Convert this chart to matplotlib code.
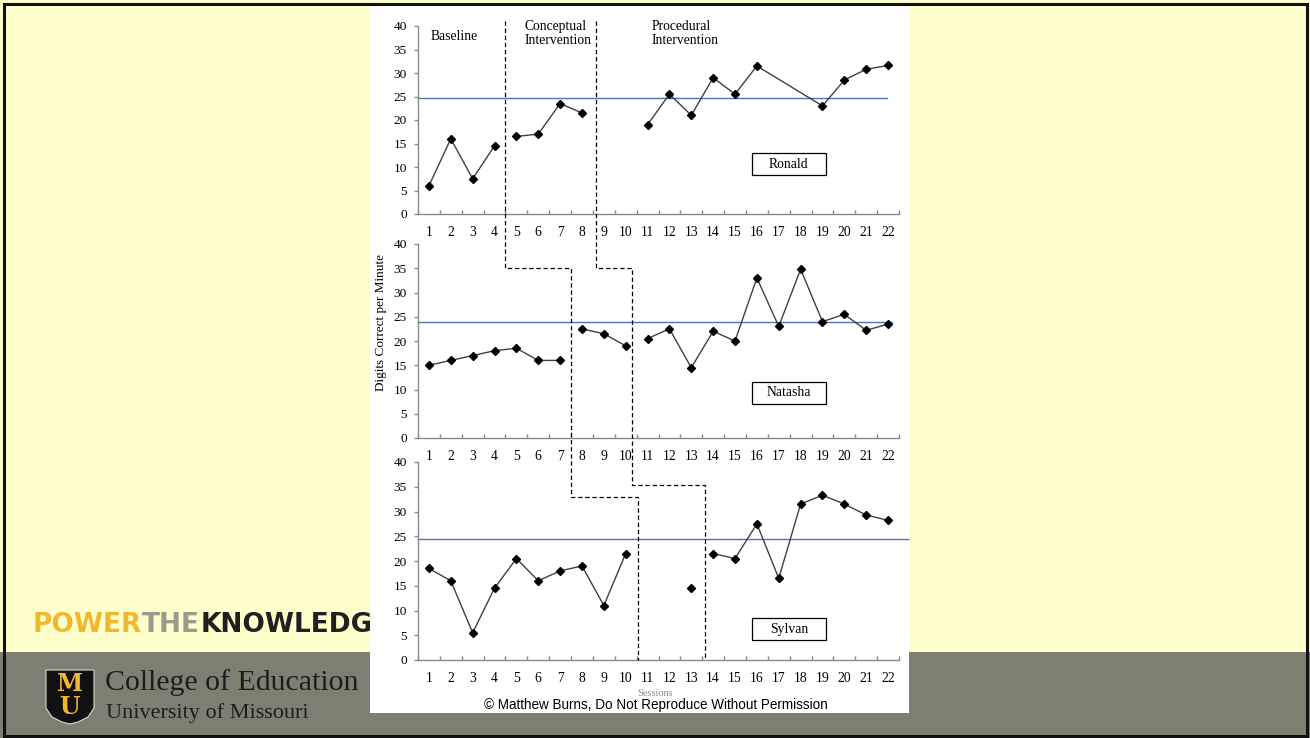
import numpy as np
import matplotlib
matplotlib.use("Agg")
import matplotlib.pyplot as plt
from matplotlib.patches import Rectangle, Polygon
from matplotlib.lines import Line2D

# ---- data -------------------------------------------------------------
sessions = list(range(1, 23))
nan = np.nan
ronald = [6, 16, 7.5, 14.5, 16.5, 17, 23.5, 21.5, nan, nan, 19, 25.5, 21,
          29, 25.5, 31.5, nan, nan, 23, 28.5, 30.8, 31.6]
natasha = [15, 16, 17, 18, 18.5, 16, 16, 22.5, 21.5, 19, 20.5, 22.5, 14.5,
           22, 20, 33, 23, 34.8, 24, 25.5, 22.2, 23.5]
sylvan = [18.5, 16, 5.5, 14.5, 20.5, 16, 18, 19, 11, 21.5, nan, nan, 14.5,
          21.5, 20.5, 27.5, 16.5, 31.5, 33.3, 31.5, 29.3, 28.2]
students = ["Ronald", "Natasha", "Sylvan"]
goals = [24.7, 23.9, 24.4]
# phase change points (session units) for each student
phase_changes = [[4.5, 8.65], [7.5, 10.3], [10.55, 13.63]]
phase_labels = ["Baseline", "Conceptual\nIntervention", "Procedural\nIntervention"]
y_ticks = [0, 5, 10, 15, 20, 25, 30, 35, 40]

# ---- figure -----------------------------------------------------------
W, H = 1310, 738
fig = plt.figure(figsize=(W / 100, H / 100), dpi=100)
fig.patch.set_facecolor("#FFFFCC")
plt.rcParams["font.family"] = ["Liberation Serif", "DejaVu Serif"]


def fx(x):
    return x / W


def fy(y):
    return 1 - y / H


# slide furniture
fig.add_artist(Rectangle((0, 0), 1, fy(652), transform=fig.transFigure,
                         facecolor="#7F7F71", edgecolor="none", zorder=-5))
fig.add_artist(Rectangle((fx(370), fy(713)), fx(909) - fx(370), fy(5) - fy(713),
                         transform=fig.transFigure, facecolor="white",
                         edgecolor="none", zorder=-1))

# banner text, chained word by word
renderer = fig.canvas.get_renderer()
x_cur = fx(33)
for word, col in [("POWER", "#F1B82D"), ("THE", "#9B9B8C"), ("KNOWLEDGE", "#231F20")]:
    t = fig.text(x_cur, fy(625), word, color=col, fontsize=19, fontweight="bold",
                 family=["DejaVu Sans"], ha="left", va="center", zorder=-2)
    bb = t.get_window_extent(renderer)
    x_cur = bb.x1 / W

# shield logo
shield = [(46, 670), (94, 670), (94, 708), (88, 717), (78, 722), (70, 724),
          (62, 722), (52, 717), (46, 708)]
fig.add_artist(Polygon([(fx(a), fy(b)) for a, b in shield], closed=True,
                       transform=fig.transFigure, facecolor="#111111",
                       edgecolor="#d8d8d0", lw=0.8, zorder=-1.5))
fig.text(fx(70), fy(684), "M", color="#F1B82D", fontsize=17, fontweight="bold",
         family="DejaVu Serif", ha="center", va="center", zorder=-1.4)
fig.text(fx(70), fy(707), "U", color="#F1B82D", fontsize=17, fontweight="bold",
         family="DejaVu Serif", ha="center", va="center", zorder=-1.4)
fig.text(fx(105), fy(690), "College of Education", color="#1c1c1c", fontsize=21.5,
         ha="left", va="baseline", zorder=-1.4)
fig.text(fx(106), fy(718), "University of Missouri", color="#1c1c1c", fontsize=16,
         ha="left", va="baseline", zorder=-1.4)

# ---- panels -----------------------------------------------------------
ax_left, ax_w = fx(418), fx(899) - fx(418)
axes_px = [(214, 26), (438, 244), (660, 462)]  # (y of 0, y of 40)
grid_color = "#8a8a8a"
axes = []
for (y0, y40) in axes_px:
    ax = fig.add_axes([ax_left, fy(y0), ax_w, fy(y40) - fy(y0)])
    ax.set_facecolor("none")
    ax.set_xlim(0.5, 22.5)
    ax.set_ylim(0, 40)
    for s in ["top", "right"]:
        ax.spines[s].set_visible(False)
    for s in ["left", "bottom"]:
        ax.spines[s].set_color(grid_color)
        ax.spines[s].set_linewidth(1.0)
    ax.set_xticks(sessions)
    ax.set_xticklabels([str(s) for s in sessions])
    ax.set_xticks(np.arange(0.5, 23, 1), minor=True)
    ax.tick_params(axis="x", which="major", length=0, pad=9, labelsize=9.8)
    ax.tick_params(axis="x", which="minor", direction="in", length=3,
                   color=grid_color, width=1)
    ax.set_yticks(y_ticks)
    ax.tick_params(axis="y", direction="out", length=3, pad=5, labelsize=9.6,
                   color=grid_color, width=1)
    axes.append(ax)

goal_ends = [0.975, 0.985, 1.019]
box_y = [(0.207, 0.324), (0.175, 0.289), (0.101, 0.212)]
for ax, vals, name, goal, changes, gend, (by0, by1) in zip(
        axes, [ronald, natasha, sylvan], students, goals, phase_changes,
        goal_ends, box_y):
    vals = np.array(vals, dtype=float)
    xs = np.array(sessions, dtype=float)
    edges = [-np.inf] + changes + [np.inf]
    for lo, hi in zip(edges[:-1], edges[1:]):
        m = (xs > lo) & (xs < hi) & ~np.isnan(vals)
        ax.plot(xs[m], vals[m], color="#404040", lw=1.0, marker="D",
                markersize=4, markerfacecolor="black", markeredgecolor="black",
                clip_on=False, zorder=3)
    ax.axhline(goal, xmin=0, xmax=gend, color="#4F74B0", lw=1.0, clip_on=False,
               zorder=2)
    ax.add_patch(Rectangle((0.694, by0), 0.154, by1 - by0, transform=ax.transAxes,
                           facecolor="white", edgecolor="black", lw=0.9,
                           clip_on=False, zorder=4))
    ax.text(0.771, (by0 + by1) / 2, name, transform=ax.transAxes, ha="center",
            va="center", fontsize=9.8, zorder=5)

# phase labels on the top panel
top = axes[0]
top.text(2.15, 37.7, phase_labels[0], ha="center", va="center", fontsize=9.8)
top.text(5.35, 38.4, phase_labels[1], ha="left", va="center", fontsize=9.8,
         linespacing=1.05)
top.text(11.19, 38.4, phase_labels[2], ha="left", va="center", fontsize=9.8,
         linespacing=1.05)

# staggered phase-change lines across the three panels
inv = fig.transFigure.inverted()


def to_fig(ax, x, y):
    return inv.transform(ax.transData.transform((x, y)))


a0, a1, a2 = axes
steps = [(phase_changes[0][0], phase_changes[1][0], phase_changes[2][0], 35, 33),
         (phase_changes[0][1], phase_changes[1][1], phase_changes[2][1], 35, 35.4)]
for xa, xb, xc, hb, hc in steps:
    pts = [to_fig(a0, xa, 41), to_fig(a1, xa, hb), to_fig(a1, xb, hb),
           to_fig(a2, xb, hc), to_fig(a2, xc, hc), to_fig(a2, xc, 0)]
    pts = np.array(pts)
    fig.add_artist(Line2D(pts[:, 0], pts[:, 1], transform=fig.transFigure,
                          color="black", lw=0.9, linestyle=(0, (3.5, 2.2)),
                          zorder=2))

fig.text(fx(381), fy(322), "Digits Correct per Minute", rotation=90, ha="center",
         va="center", fontsize=9.5)
fig.text(fx(655), fy(694), "Sessions", ha="center", va="center", fontsize=7.5,
         color="#8a8a8a")
fig.text(fx(656), fy(705.5), "\u00a9 Matthew Burns, Do Not Reproduce Without Permission",
         family=["Liberation Sans", "DejaVu Sans"], ha="center", va="center",
         fontsize=9.75, zorder=3)

# slide frame
fig.add_artist(Rectangle((fx(3.5), fy(735.5)), fx(1306.5) - fx(3.5),
                         fy(3.5) - fy(735.5), transform=fig.transFigure,
                         facecolor="none", edgecolor="#111111", lw=2.2, zorder=10))

fig.savefig("out.png", dpi=100, facecolor=fig.get_facecolor())
